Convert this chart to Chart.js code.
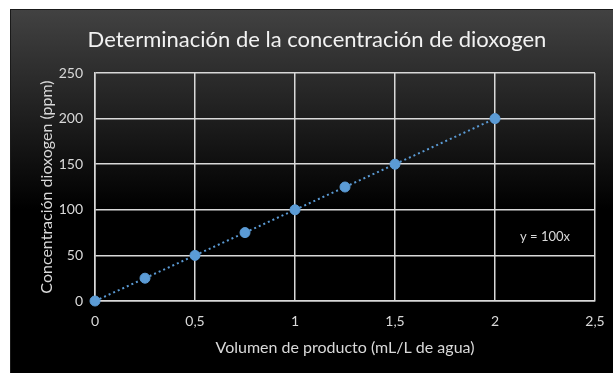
<!DOCTYPE html>
<html>
<head>
<meta charset="utf-8">
<script src="https://cdn.jsdelivr.net/npm/chart.js@4"></script>
<style>
  html, body { margin: 0; padding: 0; background: #fff; }
  #wrap { width: 613px; height: 373px; }
</style>
</head>
<body>
<div id="wrap"><canvas id="chart" width="613" height="373"></canvas></div>
<script>
// data
const volumen = [0, 0.25, 0.5, 0.75, 1, 1.25, 1.5, 2];
const concentracion = [0, 25, 50, 75, 100, 125, 150, 200];
const trendX = [0, 2];
const trendY = [0, 200];
const trendLabel = 'y = 100x';
const trendLabelPos = [2.25, 70];
const chartTitle = 'Determinación de la concentración de dioxogen';

const FONT = 'Lato, "Open Sans", sans-serif';
const BLUE = '#5b9bd5';
const GRID = '#d9d9d9';

// dark gradient panel behind everything, plus the title (centred on the panel)
const panelBg = {
    id: 'panelBg',
    beforeDraw(chart) {
        const c = chart.ctx;
        c.save();
        c.fillStyle = '#ffffff';
        c.fillRect(0, 0, chart.width, chart.height);
        const g = c.createLinearGradient(0, 9, 0, chart.height);
        g.addColorStop(0, '#424242');
        g.addColorStop(0.55, '#000000');
        g.addColorStop(1, '#000000');
        c.fillStyle = g;
        c.fillRect(10, 9, chart.width - 10, chart.height - 9);
        c.strokeStyle = '#1a1a1a';
        c.lineWidth = 1;
        c.strokeRect(10.5, 9.5, chart.width - 10, chart.height - 9);
        c.font = '22px ' + FONT;
        c.fillStyle = '#f2f2f2';
        c.textAlign = 'center';
        c.textBaseline = 'middle';
        c.fillText(chartTitle, 317, 40);
        c.restore();
    }
};

// equation label of the trendline
const eqLabel = {
    id: 'eqLabel',
    afterDatasetsDraw(chart) {
        const c = chart.ctx;
        const x = chart.scales.x.getPixelForValue(trendLabelPos[0]);
        const y = chart.scales.y.getPixelForValue(trendLabelPos[1]);
        c.save();
        c.font = '13px ' + FONT;
        c.fillStyle = '#d9d9d9';
        c.textAlign = 'center';
        c.textBaseline = 'middle';
        c.fillText(trendLabel, x, y);
        c.restore();
    }
};

const ctx = document.getElementById('chart').getContext('2d');
new Chart(ctx, {
    type: 'scatter',
    data: {
        datasets: [
            {
                label: 'Lineal',
                type: 'line',
                data: trendX.map((x, i) => ({ x: x, y: trendY[i] })),
                borderColor: BLUE,
                borderWidth: 2,
                borderDash: [2, 3],
                pointRadius: 0,
                fill: false,
                clip: false,
                order: 2
            },
            {
                label: 'Concentración',
                data: volumen.map((x, i) => ({ x: x, y: concentracion[i] })),
                backgroundColor: BLUE,
                borderColor: BLUE,
                pointRadius: 5,
                clip: false,
                order: 1
            }
        ]
    },
    options: {
        responsive: false,
        animation: false,
        layout: { padding: { left: 10, top: 73, right: 18, bottom: 0 } },
        plugins: {
            legend: { display: false },
            tooltip: { enabled: false },
            title: { display: false }
        },
        scales: {
            x: {
                type: 'linear',
                min: 0, max: 2.5,
                ticks: {
                    stepSize: 0.5,
                    color: '#d9d9d9',
                    font: { family: FONT, size: 14 },
                    padding: 12,
                    callback: v => String(v).replace('.', ',')
                },
                grid: { color: GRID, lineWidth: 1.5, drawTicks: false },
                border: { color: GRID, width: 1.5 },
                title: {
                    display: true,
                    text: 'Volumen de producto (mL/L de agua)',
                    color: '#d9d9d9',
                    font: { family: FONT, size: 16 },
                    padding: { top: 4, bottom: 16 }
                },
                afterFit(axis) {
                    axis.height = 72;
                    axis.paddingLeft = 0;
                    axis.paddingRight = 0;
                }
            },
            y: {
                min: 0, max: 250,
                ticks: {
                    stepSize: 50,
                    color: '#d9d9d9',
                    font: { family: FONT, size: 14 },
                    padding: 12
                },
                grid: { color: GRID, lineWidth: 1.5, drawTicks: false },
                border: { color: GRID, width: 1.5 },
                title: {
                    display: true,
                    text: 'Concentración dioxogen (ppm)',
                    color: '#d9d9d9',
                    font: { family: FONT, size: 16 },
                    padding: { top: 27, bottom: 0 }
                },
                afterFit(axis) {
                    axis.width = 85;
                    axis.paddingTop = 0;
                    axis.paddingBottom = 0;
                }
            }
        }
    },
    plugins: [panelBg, eqLabel]
});
</script>
</body>
</html>
